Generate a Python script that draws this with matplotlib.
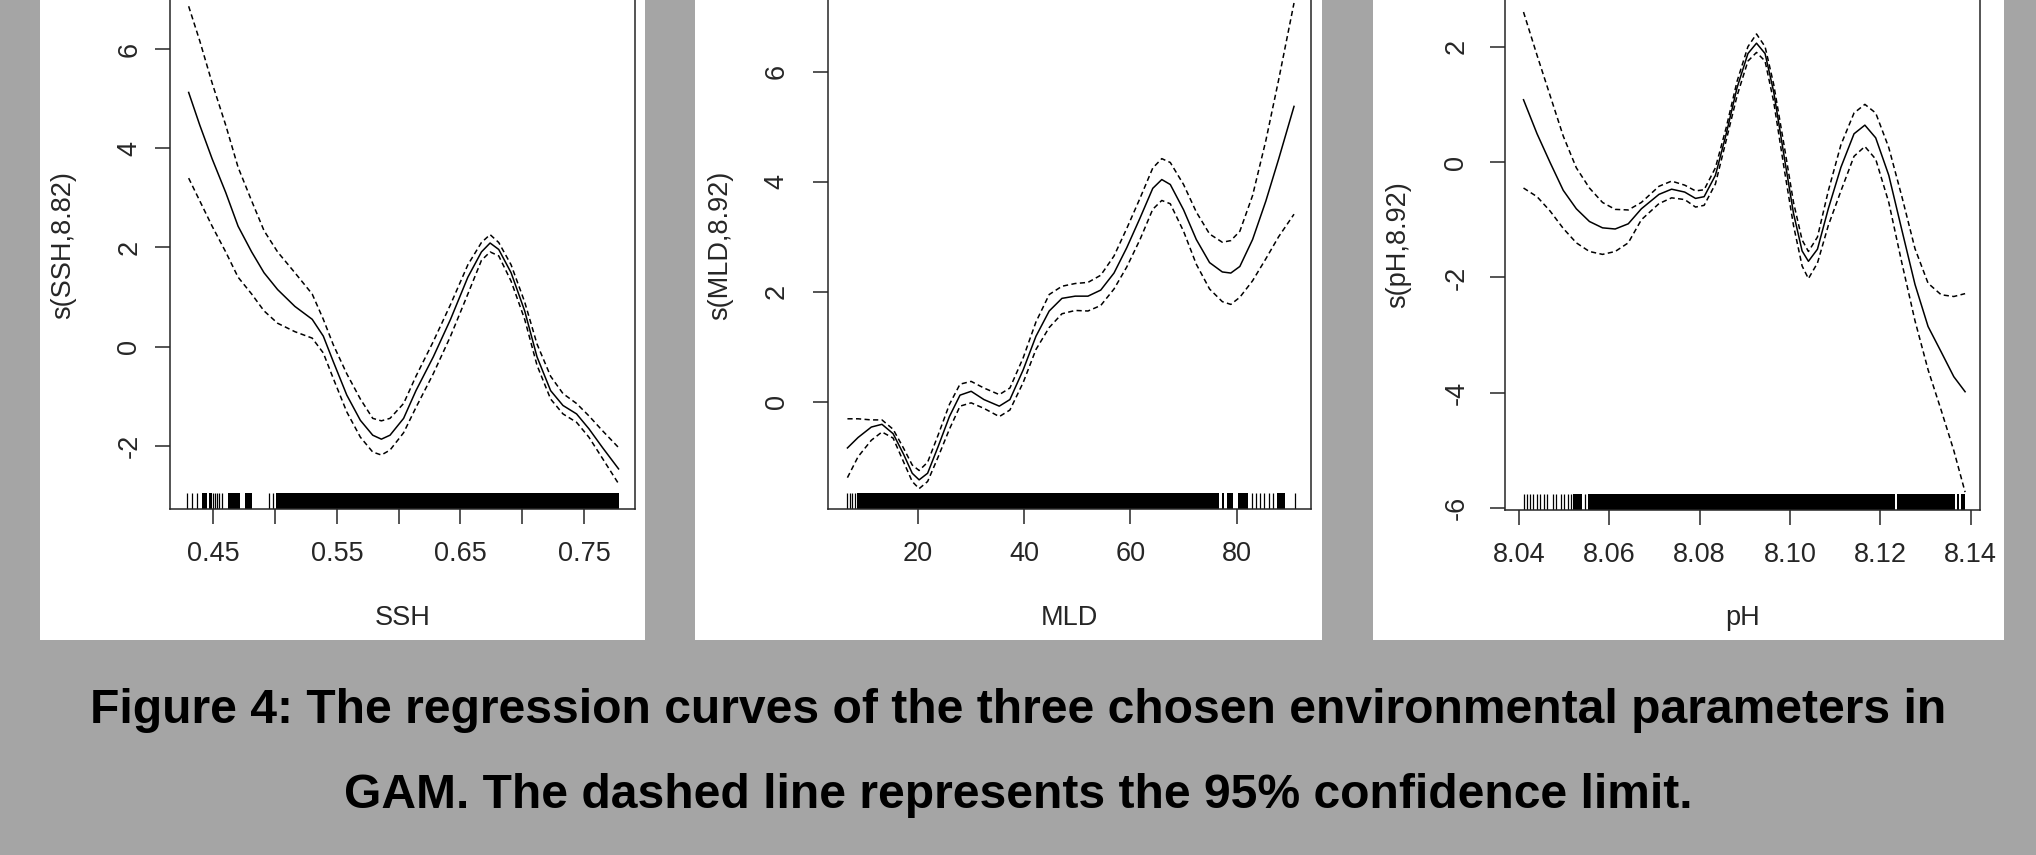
#!/usr/bin/env python3
"""GAM smooth terms for SSH, MLD and pH with 95% limits and data rugs."""

import matplotlib

matplotlib.use("Agg")
import matplotlib.pyplot as plt
from matplotlib.patches import Rectangle
from matplotlib.transforms import blended_transform_factory

FIG_W, FIG_H = 2036, 855
DPI = 100
PAGE_GREY = "#a5a5a5"
INK = "#262626"

# ---- SSH panel -------------------------------------------------------------
SSH_X = [0.430, 0.439, 0.449, 0.460, 0.470, 0.481, 0.491, 0.502, 0.516, 0.530,
         0.539, 0.547, 0.558, 0.569, 0.579, 0.586, 0.593, 0.604, 0.614, 0.628,
         0.642, 0.656, 0.667, 0.674, 0.681, 0.691, 0.702, 0.712, 0.723, 0.733,
         0.744, 0.754, 0.765, 0.778]
SSH_FIT = [5.13, 4.47, 3.79, 3.11, 2.43, 1.91, 1.49, 1.15, 0.81, 0.55,
           0.21, -0.30, -0.98, -1.49, -1.79, -1.87, -1.79, -1.45, -0.89, -0.21,
           0.55, 1.40, 1.91, 2.09, 1.96, 1.49, 0.72, -0.21, -0.89, -1.19,
           -1.36, -1.66, -2.04, -2.47]
SSH_UPPER = [6.87, 6.17, 5.32, 4.47, 3.62, 2.94, 2.34, 1.91, 1.49, 1.06,
             0.55, 0.04, -0.55, -1.06, -1.45, -1.50, -1.45, -1.15, -0.60, 0.10,
             0.85, 1.65, 2.10, 2.26, 2.10, 1.65, 0.90, 0.05, -0.60, -0.95,
             -1.15, -1.40, -1.70, -2.04]
SSH_LOWER = [3.40, 2.94, 2.43, 1.91, 1.40, 1.06, 0.72, 0.47, 0.30, 0.17,
             -0.13, -0.64, -1.32, -1.83, -2.13, -2.19, -2.09, -1.74, -1.23, -0.55,
             0.21, 1.06, 1.74, 1.91, 1.83, 1.32, 0.55, -0.38, -1.06, -1.36,
             -1.53, -1.83, -2.26, -2.77]
SSH_RUG_TICKS = [0.4289, 0.4325, 0.4365, 0.4500, 0.4515, 0.4532, 0.4548,
                 0.4568, 0.4954, 0.4981]
SSH_RUG_BLOCKS = [(0.4406, 0.4450), (0.4462, 0.4487), (0.4622, 0.4716),
                  (0.4757, 0.4811), (0.5008, 0.7786)]
SSH_XTICKS = [0.45, 0.50, 0.55, 0.60, 0.65, 0.70, 0.75]
SSH_XTICKLABELS = ["0.45", "", "0.55", "", "0.65", "", "0.75"]
SSH_YTICKS = [-2, 0, 2, 4, 6]

# ---- MLD panel -------------------------------------------------------------
MLD_X = [6.7, 8.7, 11.2, 13.2, 15.3, 17.3, 18.9, 20.2, 21.8, 23.8,
         25.9, 27.9, 30.0, 32.4, 35.3, 37.3, 39.8, 42.2, 44.7, 47.1,
         49.6, 52.0, 54.4, 56.9, 59.3, 61.8, 64.2, 65.9, 67.5, 70.0,
         72.4, 74.9, 77.3, 78.9, 80.6, 83.0, 85.5, 87.9, 90.8]
MLD_FIT = [-0.84, -0.65, -0.46, -0.41, -0.58, -0.96, -1.30, -1.42, -1.30, -0.81,
           -0.27, 0.12, 0.19, 0.04, -0.08, 0.04, 0.58, 1.19, 1.65, 1.88,
           1.92, 1.92, 2.03, 2.34, 2.80, 3.34, 3.88, 4.04, 3.95, 3.49,
           2.95, 2.53, 2.36, 2.34, 2.46, 2.95, 3.65, 4.41, 5.37]
MLD_UPPER = [-0.31, -0.31, -0.33, -0.33, -0.50, -0.85, -1.15, -1.25, -1.10, -0.60,
             -0.05, 0.32, 0.37, 0.25, 0.13, 0.25, 0.80, 1.45, 1.95, 2.10,
             2.15, 2.17, 2.30, 2.65, 3.15, 3.70, 4.25, 4.42, 4.35, 3.95,
             3.45, 3.05, 2.90, 2.93, 3.10, 3.75, 4.75, 5.85, 7.25]
MLD_LOWER = [-1.38, -1.00, -0.70, -0.55, -0.66, -1.10, -1.45, -1.58, -1.45, -1.00,
             -0.50, -0.08, -0.02, -0.12, -0.27, -0.15, 0.35, 0.95, 1.35, 1.60,
             1.66, 1.65, 1.75, 2.05, 2.45, 2.95, 3.50, 3.66, 3.60, 3.10,
             2.50, 2.05, 1.82, 1.77, 1.90, 2.20, 2.60, 3.00, 3.41]
MLD_RUG_TICKS = [6.6, 7.1, 7.6, 8.1, 80.9, 82.9, 83.6, 84.4, 85.2, 86.0,
                 86.8, 90.9]
MLD_RUG_BLOCKS = [(8.5, 76.7), (77.2, 77.6), (78.1, 79.3), (80.3, 82.2),
                  (87.6, 89.1)]
MLD_XTICKS = [20, 40, 60, 80]
MLD_XTICKLABELS = ["20", "40", "60", "80"]
MLD_YTICKS = [0, 2, 4, 6]

# ---- pH panel --------------------------------------------------------------
PH_X = [8.0410, 8.0440, 8.0469, 8.0498, 8.0527, 8.0556, 8.0585, 8.0613, 8.0642,
        8.0671, 8.0710, 8.0738, 8.0767, 8.0791, 8.0810, 8.0835, 8.0859, 8.0883,
        8.0907, 8.0926, 8.0945, 8.0964, 8.0988, 8.1008, 8.1027, 8.1041, 8.1061,
        8.1085, 8.1113, 8.1142, 8.1166, 8.1190, 8.1219, 8.1248, 8.1277, 8.1306,
        8.1335, 8.1363, 8.1388]
PH_FIT = [1.08, 0.49, -0.01, -0.49, -0.81, -1.03, -1.14, -1.16, -1.07,
          -0.81, -0.56, -0.47, -0.52, -0.63, -0.60, -0.23, 0.49, 1.29,
          1.88, 2.06, 1.88, 1.22, 0.06, -0.89, -1.54, -1.72, -1.51,
          -0.81, -0.09, 0.49, 0.64, 0.42, -0.23, -1.18, -2.12, -2.85,
          -3.29, -3.72, -3.98]
PH_UPPER = [2.60, 1.85, 1.15, 0.45, -0.10, -0.45, -0.70, -0.82, -0.83,
            -0.70, -0.42, -0.33, -0.40, -0.50, -0.48, -0.10, 0.60, 1.40,
            2.00, 2.22, 2.00, 1.35, 0.25, -0.70, -1.35, -1.55, -1.30,
            -0.50, 0.30, 0.85, 1.00, 0.85, 0.25, -0.60, -1.50, -2.10,
            -2.30, -2.33, -2.28]
PH_LOWER = [-0.45, -0.60, -0.85, -1.15, -1.40, -1.55, -1.60, -1.55, -1.40,
            -1.00, -0.72, -0.62, -0.65, -0.78, -0.75, -0.38, 0.38, 1.15,
            1.75, 1.90, 1.75, 1.05, -0.15, -1.10, -1.80, -2.02, -1.75,
            -1.10, -0.50, 0.10, 0.27, 0.05, -0.70, -1.75, -2.75, -3.60,
            -4.30, -5.00, -5.72]
PH_RUG_TICKS = [8.0410, 8.0417, 8.0425, 8.0431, 8.0440, 8.0447, 8.0455, 8.0462,
                8.0475, 8.0483, 8.0492, 8.0500, 8.0508, 8.0516, 8.0547]
PH_RUG_BLOCKS = [(8.0520, 8.0540), (8.0552, 8.1233), (8.1238, 8.1366),
                 (8.1371, 8.1375), (8.1380, 8.1388)]
PH_XTICKS = [8.04, 8.06, 8.08, 8.10, 8.12, 8.14]
PH_XTICKLABELS = ["8.04", "8.06", "8.08", "8.10", "8.12", "8.14"]
PH_YTICKS = [-6, -4, -2, 0, 2]

CAPTION_1 = "Figure 4: The regression curves of the three chosen environmental parameters in"
CAPTION_2 = "GAM. The dashed line represents the 95% confidence limit."

# layout in pixels of the 2036x855 canvas: white card, plot box, text offsets
PANELS = [
    dict(name="SSH", ylabel="s(SSH,8.82)", card=(40, 645), box=(170, 635, 509, -20),
         xlim=(0.4149, 0.7913), ylim=(-3.28, 7.40), ytick_pad=8.9, ylabel_x=76.0,
         x=SSH_X, fit=SSH_FIT, upper=SSH_UPPER, lower=SSH_LOWER,
         rug_ticks=SSH_RUG_TICKS, rug_blocks=SSH_RUG_BLOCKS,
         xticks=SSH_XTICKS, xticklabels=SSH_XTICKLABELS, yticks=SSH_YTICKS),
    dict(name="MLD", ylabel="s(MLD,8.92)", card=(695, 1322), box=(828, 1311, 509, -19),
         xlim=(3.04, 94.0), ylim=(-1.95, 7.65), ytick_pad=16.5, ylabel_x=733.0,
         x=MLD_X, fit=MLD_FIT, upper=MLD_UPPER, lower=MLD_LOWER,
         rug_ticks=MLD_RUG_TICKS, rug_blocks=MLD_RUG_BLOCKS,
         xticks=MLD_XTICKS, xticklabels=MLD_XTICKLABELS, yticks=MLD_YTICKS),
    dict(name="pH", ylabel="s(pH,8.92)", card=(1373, 2004), box=(1505, 1980, 510, -7),
         xlim=(8.0369, 8.1421), ylim=(-6.03, 2.93), ytick_pad=14.7, ylabel_x=1410.7,
         x=PH_X, fit=PH_FIT, upper=PH_UPPER, lower=PH_LOWER,
         rug_ticks=PH_RUG_TICKS, rug_blocks=PH_RUG_BLOCKS,
         xticks=PH_XTICKS, xticklabels=PH_XTICKLABELS, yticks=PH_YTICKS),
]
CARD_BOTTOM = 640
XLABEL_TOP = 605
YLABEL_CENTER = 245
RUG_FRACTION = 0.03
AXIS_FONT = 19.5

plt.rcParams["font.family"] = ["Liberation Sans", "DejaVu Sans"]


def fx(px: float) -> float:
    return px / FIG_W


def fy(py: float) -> float:
    return (FIG_H - py) / FIG_H


def draw_panel(fig, spec: dict) -> None:
    card_l, card_r = spec["card"]
    fig.patches.append(
        Rectangle((fx(card_l), fy(CARD_BOTTOM)), fx(card_r) - fx(card_l),
                  1.2, transform=fig.transFigure, facecolor="white",
                  edgecolor="none", zorder=-5)
    )

    left, right, bottom, top = spec["box"]
    width_px, height_px = right - left, bottom - top
    ax = fig.add_axes([fx(left), fy(bottom), width_px / FIG_W, height_px / FIG_H])
    ax.set_facecolor("white")

    ax.plot(spec["x"], spec["fit"], color="black", lw=1.1, zorder=3)
    for band in (spec["upper"], spec["lower"]):
        ax.plot(spec["x"], band, color="black", lw=1.1,
                linestyle=(0, (3.4, 2.2)), zorder=3)

    rug_tf = blended_transform_factory(ax.transData, ax.transAxes)
    ax.vlines(spec["rug_ticks"], 0, RUG_FRACTION, transform=rug_tf,
              color="black", lw=0.9, zorder=2)
    for x0, x1 in spec["rug_blocks"]:
        ax.axvspan(x0, x1, ymin=0, ymax=RUG_FRACTION, facecolor="black",
                   edgecolor="none", zorder=2)

    ax.set_xlim(*spec["xlim"])
    ax.set_ylim(*spec["ylim"])
    ax.set_xticks(spec["xticks"])
    ax.set_xticklabels(spec["xticklabels"])
    ax.set_yticks(spec["yticks"])
    ax.set_yticklabels([str(v) for v in spec["yticks"]])

    ax.tick_params(direction="out", length=11, width=1.1, color=INK,
                   labelsize=AXIS_FONT, labelcolor=INK)
    ax.tick_params(axis="x", pad=12)
    ax.tick_params(axis="y", pad=spec["ytick_pad"])
    for label in ax.get_yticklabels():
        label.set_rotation(90)
        label.set_va("center")
        label.set_ha("right")
    for spine in ax.spines.values():
        spine.set_linewidth(1.1)
        spine.set_color(INK)

    ax.set_xlabel(spec["name"], fontsize=AXIS_FONT, color=INK)
    ax.xaxis.set_label_coords(0.5, (bottom - XLABEL_TOP) / height_px)
    ax.set_ylabel(spec["ylabel"], fontsize=AXIS_FONT, color=INK)
    ax.yaxis.set_label_coords((spec["ylabel_x"] - left) / width_px,
                              (bottom - YLABEL_CENTER) / height_px)


def main() -> None:
    fig = plt.figure(figsize=(FIG_W / DPI, FIG_H / DPI), dpi=DPI, facecolor=PAGE_GREY)
    for spec in PANELS:
        draw_panel(fig, spec)

    caption = dict(ha="center", va="baseline", fontsize=34.6, fontweight="bold",
                   color="black")
    fig.text(0.5, fy(723), CAPTION_1, **caption)
    fig.text(0.5, fy(808), CAPTION_2, **caption)

    fig.savefig("out.png", dpi=DPI, facecolor=PAGE_GREY)
    plt.close(fig)


if __name__ == "__main__":
    main()
